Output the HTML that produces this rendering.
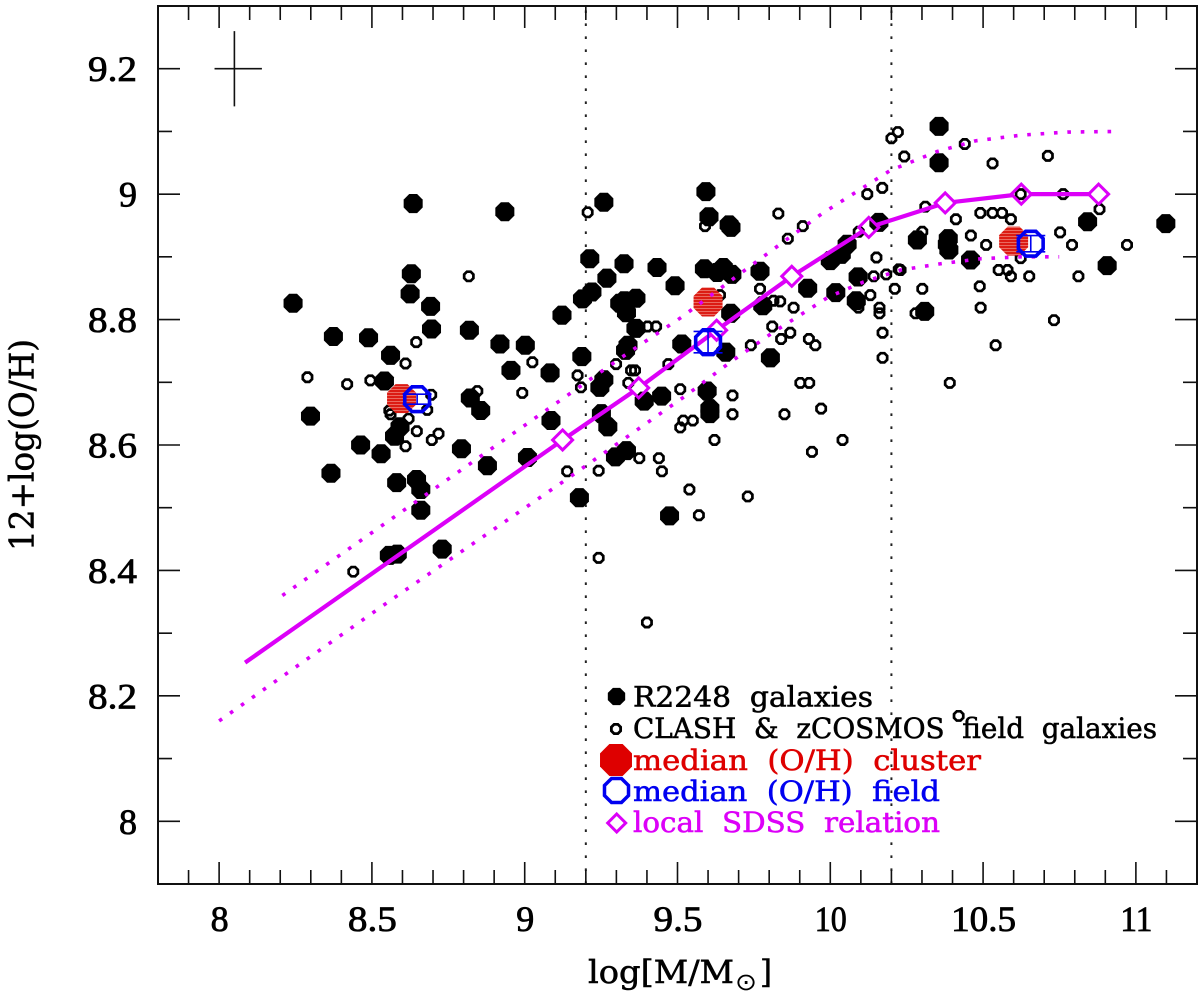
<!DOCTYPE html>
<html lang="en">
<head>
<meta charset="utf-8">
<title>Mass-metallicity relation</title>
<style>
html,body{margin:0;padding:0;background:#fff;}
svg{display:block;}
text{font-family:"Liberation Serif","DejaVu Serif",serif;white-space:pre;}
text.slab{font-family:"DejaVu Serif","Liberation Serif",serif;stroke-width:0.55px;}
</style>
</head>
<body>
<svg id="chart" xmlns="http://www.w3.org/2000/svg" width="1200" height="1000" viewBox="0 0 1200 1000">
  <defs>
    <pattern id="hatch" patternUnits="userSpaceOnUse" width="6" height="3">
      <rect width="6" height="3" fill="#ea6a60"/>
      <rect width="6" height="2" fill="#dc1c14"/>
    </pattern>
  </defs>
  <rect x="0" y="0" width="1200" height="1000" fill="#fff"/>
  <g id="vlines"></g>
  <g id="filled"></g>
  <g id="open"></g>
  <g id="clusterMed"></g>
  <g id="sdss"></g>
  <g id="fieldMed"></g>
  <g id="errcross"></g>
  <g id="axes"></g>

  <text class="slab" transform="translate(33.5,551) rotate(-90)" font-size="34" textLength="212" lengthAdjust="spacingAndGlyphs" fill="#000" stroke="#000">12+log(O/H)</text>
  <g fill="#000">
    <text class="slab" x="588" y="983" font-size="32" textLength="146" lengthAdjust="spacingAndGlyphs" stroke="#000">log[M/M</text>
    <text x="735" y="990" font-size="24" textLength="22" lengthAdjust="spacingAndGlyphs" style="font-family:'DejaVu Sans',sans-serif">⊙</text>
    <text class="slab" x="760" y="983" font-size="32" textLength="12" lengthAdjust="spacingAndGlyphs" stroke="#000">]</text>
  </g>

  <g id="legend">
    <polygon id="lg-filled" fill="#000"/>
    <text class="slab" x="633" y="706.5" font-size="28" textLength="240" lengthAdjust="spacingAndGlyphs" fill="#000" stroke="#000">R2248  galaxies</text>
    <polygon id="lg-open" fill="none" stroke="#000" stroke-width="2.8"/>
    <text class="slab" x="633" y="738" font-size="28" textLength="524" lengthAdjust="spacingAndGlyphs" fill="#000" stroke="#000">CLASH  &amp;  zCOSMOS  field  galaxies</text>
    <polygon id="lg-red" fill="#de0000"/>
    <text class="slab" x="633" y="770" font-size="28" textLength="348" lengthAdjust="spacingAndGlyphs" fill="#de0000" stroke="#de0000">median  (O/H)  cluster</text>
    <polygon id="lg-blue" fill="none" stroke="#0000f0" stroke-width="3.5"/>
    <text class="slab" x="633" y="801" font-size="28" textLength="307" lengthAdjust="spacingAndGlyphs" fill="#0000f0" stroke="#0000f0">median  (O/H)  field</text>
    <polygon id="lg-diamond" points="616.7,814 625.7,823 616.7,832 607.7,823" fill="none" stroke="#dc00f8" stroke-width="3"/>
    <text class="slab" x="633" y="832" font-size="28" textLength="307" lengthAdjust="spacingAndGlyphs" fill="#dc00f8" stroke="#dc00f8">local  SDSS  relation</text>
  </g>
</svg>

<script>
// ---------- chart data (logM, 12+log(O/H)) ----------
const filledGalaxies = [
[8.635,8.985],[8.935,8.972],[9.259,8.987],[9.213,8.897],[9.269,8.866],[9.22,8.844],[9.189,8.833],[8.629,8.873],[8.625,8.841],[8.242,8.826],
[8.692,8.821],[8.695,8.785],[8.374,8.773],[8.489,8.771],[8.819,8.783],[8.919,8.761],[9.002,8.759],[9.122,8.807],[9.187,8.741],[8.561,8.743],
[8.955,8.719],[9.083,8.715],[8.541,8.702],[9.259,8.704],[9.246,8.692],[8.822,8.675],[8.856,8.655],[8.299,8.646],[9.086,8.639],[9.251,8.65],
[9.272,8.629],[8.592,8.629],[8.574,8.614],[8.463,8.6],[8.53,8.586],[8.793,8.594],[8.366,8.555],[8.581,8.54],[8.646,8.545],[8.66,8.529],
[8.66,8.496],[8.878,8.567],[9.009,8.58],[9.179,8.516],[8.73,8.434],[8.557,8.424],[8.583,8.426],[9.593,9.004],[9.603,8.964],[9.675,8.947],
[9.669,8.951],[9.325,8.889],[9.433,8.883],[9.492,8.854],[9.588,8.881],[9.65,8.883],[9.63,8.875],[9.678,8.872],[9.77,8.877],[9.926,8.85],
[9.779,8.822],[10.091,8.868],[10.055,8.92],[10.036,8.904],[10.0,8.894],[10.159,8.955],[10.018,8.843],[10.085,8.83],[9.326,8.83],[9.364,8.834],
[9.311,8.826],[9.333,8.811],[9.364,8.786],[9.338,8.759],[9.33,8.751],[9.514,8.761],[9.674,8.81],[9.658,8.748],[9.804,8.739],[9.391,8.67],
[9.448,8.678],[9.597,8.686],[9.606,8.65],[9.606,8.658],[9.333,8.591],[9.297,8.581],[9.474,8.487],[10.356,9.108],[10.356,9.05],[10.285,8.927],
[10.386,8.929],[10.383,8.92],[10.388,8.911],[10.459,8.895],[10.309,8.813],[10.842,8.956],[11.098,8.953],[10.906,8.886]
];
const fieldGalaxies = [
[9.206,8.971],[8.817,8.869],[8.645,8.764],[8.61,8.73],[9.025,8.732],[8.289,8.708],[8.419,8.697],[8.495,8.703],[9.173,8.711],[9.184,8.692],
[8.992,8.683],[8.845,8.686],[8.694,8.68],[8.681,8.656],[8.557,8.655],[8.561,8.649],[8.62,8.642],[8.647,8.622],[8.718,8.618],[8.696,8.608],
[8.61,8.598],[8.439,8.398],[9.139,8.558],[9.242,8.559],[9.242,8.42],[9.59,8.949],[9.83,8.969],[9.91,8.949],[9.861,8.929],[10.121,9.0],
[10.17,9.01],[10.093,8.94],[10.151,8.899],[10.142,8.869],[10.183,8.872],[10.224,8.88],[10.211,8.849],[10.131,8.839],[10.161,8.819],[10.161,8.81],
[10.171,8.779],[10.171,8.739],[9.77,8.849],[9.814,8.83],[9.836,8.829],[9.88,8.819],[9.81,8.789],[9.869,8.779],[9.839,8.769],[9.93,8.769],
[9.951,8.759],[9.74,8.759],[9.402,8.789],[9.43,8.789],[9.639,8.839],[9.299,8.729],[9.47,8.729],[9.348,8.719],[9.361,8.719],[9.339,8.699],
[9.509,8.689],[9.68,8.679],[9.902,8.699],[9.931,8.699],[9.68,8.649],[9.519,8.639],[9.55,8.639],[9.509,8.628],[9.621,8.608],[9.375,8.579],
[9.439,8.579],[9.449,8.558],[9.539,8.529],[9.73,8.518],[9.57,8.488],[9.4,8.317],[9.85,8.649],[9.97,8.658],[10.04,8.608],[9.94,8.589],
[10.221,9.099],[10.2,9.089],[10.242,9.06],[10.44,9.08],[10.531,9.049],[10.712,9.061],[10.311,8.98],[10.623,9.0],[10.762,9.0],[10.881,8.976],
[10.491,8.97],[10.531,8.97],[10.562,8.97],[10.591,8.96],[10.411,8.96],[10.301,8.94],[10.46,8.934],[10.51,8.919],[10.752,8.939],[10.791,8.919],
[10.971,8.919],[10.623,8.898],[10.23,8.879],[10.551,8.879],[10.58,8.879],[10.591,8.869],[10.651,8.869],[10.812,8.869],[10.301,8.849],[10.489,8.853],
[10.492,8.819],[10.092,8.819],[10.279,8.81],[10.541,8.759],[10.732,8.799],[10.391,8.699],[10.42,8.168]
];
const clusterMedians = [[8.597,8.674],[9.6,8.828],[10.6,8.925]];
const fieldMedians = [[8.648,8.673],[9.6,8.764],[10.656,8.921]];
const fieldMedianErrors = [0.008,0.017,0.013];
const sdssCurve = [[8.085,8.253],[9.124,8.608],[9.373,8.691],[9.628,8.783],[9.874,8.869],[10.126,8.947],[10.376,8.986],[10.625,9.0],[10.878,9.0]];
const sdssUpper = [[8.207,8.36],[9.265,8.722],[9.333,8.745],[9.514,8.804],[9.721,8.879],[9.973,8.969],[10.197,9.038],[10.35,9.068],[10.475,9.085],[10.623,9.094],[10.776,9.099],[10.951,9.1]];
const sdssLower = [[8.0,8.16],[8.563,8.353],[9.133,8.544],[9.344,8.616],[9.525,8.678],[9.667,8.73],[9.814,8.78],[9.994,8.836],[10.109,8.86],[10.23,8.879],[10.361,8.889],[10.492,8.897],[10.623,8.9],[10.749,8.9]];
const massBoundaries = [9.2,10.2];
const errorCrossX = [7.985,8.14];
const errorCrossY = [9.14,9.26];
const errorCrossAt = [8.05,9.2];
const xTickLabels = ["8","8.5","9","9.5","10","10.5","11"];
const yTickLabels = ["8","8.2","8.4","8.6","8.8","9","9.2"];
const xDomain = [7.8,11.2];
const yDomain = [7.9,9.3];
const xMinorStep = 0.1;
const yMinorStep = 0.1;

// ---------- scales ----------
const plotLeft = 158, plotRight = 1197, plotTop = 6, plotBottom = 884;
function sx(v){ return plotLeft + (v - xDomain[0]) / (xDomain[1] - xDomain[0]) * (plotRight - plotLeft); }
function sy(v){ return plotBottom - (v - yDomain[0]) / (yDomain[1] - yDomain[0]) * (plotBottom - plotTop); }

const NS = "http://www.w3.org/2000/svg";
function mk(tag, attrs, parent){
  const el = document.createElementNS(NS, tag);
  for (const k in attrs) el.setAttribute(k, attrs[k]);
  if (parent) parent.appendChild(el);
  return el;
}
function octagon(cx, cy, r){
  const pts = [];
  for (let i = 0; i < 8; i++){
    const a = Math.PI / 8 + i * Math.PI / 4;
    pts.push((cx + r * Math.cos(a)).toFixed(2) + "," + (cy + r * Math.sin(a)).toFixed(2));
  }
  return pts.join(" ");
}
const $ = id => document.getElementById(id);

// ---------- vertical dotted boundaries ----------
massBoundaries.forEach(function(v){
  const el = mk("line", {x1:sx(v), x2:sx(v), y1:plotBottom, y2:plotTop, stroke:"#222", "stroke-width":2, "stroke-dasharray":"2.6 10.4"}, $("vlines"));
  
  
});

// ---------- galaxies ----------
filledGalaxies.forEach(function(p){
  const el = mk("polygon", {points:octagon(sx(p[0]), sy(p[1]), 10.3), fill:"#000"}, $("filled"));
  
  
});
fieldGalaxies.forEach(function(p){
  const el = mk("polygon", {points:octagon(sx(p[0]), sy(p[1]), 5), fill:"none", stroke:"#000", "stroke-width":2.7}, $("open"));
  
  
});

// ---------- cluster medians ----------
clusterMedians.forEach(function(p){
  const el = mk("polygon", {points:octagon(sx(p[0]), sy(p[1]), 15.7), fill:"url(#hatch)"}, $("clusterMed"));
  
  
});

// ---------- SDSS relation ----------
function pathOf(arr){
  return arr.map(function(p, i){ return (i ? "L" : "M") + sx(p[0]).toFixed(2) + " " + sy(p[1]).toFixed(2); }).join(" ");
}
[sdssUpper, sdssLower].forEach(function(arr){
  const el = mk("path", {d:pathOf(arr), fill:"none", stroke:"#dc00f8", "stroke-width":3.6, "stroke-dasharray":"3.6 9.8"}, $("sdss"));
  
  
});
const diamondHalf = 10;
for (let i = 0; i < sdssCurve.length - 1; i++){
  const x1 = sx(sdssCurve[i][0]), y1 = sy(sdssCurve[i][1]);
  const x2 = sx(sdssCurve[i + 1][0]), y2 = sy(sdssCurve[i + 1][1]);
  const len = Math.hypot(x2 - x1, y2 - y1);
  const ux = (x2 - x1) / len, uy = (y2 - y1) / len;
  const gapStart = i === 0 ? 0 : diamondHalf * 0.75;
  const seg = mk("line", {x1:x1 + ux * gapStart, y1:y1 + uy * gapStart, x2:x2 - ux * diamondHalf * 0.75, y2:y2 - uy * diamondHalf * 0.75, stroke:"#dc00f8", "stroke-width":4.2}, $("sdss"));
  
  
}
sdssCurve.slice(1).forEach(function(p){
  const cx = sx(p[0]), cy = sy(p[1]);
  const pts = [[cx, cy - diamondHalf], [cx + diamondHalf, cy], [cx, cy + diamondHalf], [cx - diamondHalf, cy]].map(function(q){ return q.join(","); }).join(" ");
  const el = mk("polygon", {points:pts, fill:"none", stroke:"#dc00f8", "stroke-width":3}, $("sdss"));
  
  
});

// ---------- field medians ----------
fieldMedians.forEach(function(p, i){
  const cx = sx(p[0]), cy = sy(p[1]);
  const el = mk("polygon", {points:octagon(cx, cy, 13.4), fill:"none", stroke:"#0000f0", "stroke-width":3.6}, $("fieldMed"));
  
  
  const top = sy(p[1] + fieldMedianErrors[i]), bot = sy(p[1] - fieldMedianErrors[i]);
  const d = "M" + (cx - 14.5) + " " + top + "H" + (cx + 14.5) + "M" + (cx - 14.5) + " " + bot + "H" + (cx + 14.5) + "M" + cx + " " + top + "V" + bot;
  const err = mk("path", {d:d, fill:"none", stroke:"#0000f0", "stroke-width":1.6}, $("fieldMed"));
  
  
});

// ---------- typical error cross ----------
(function(){
  const el = mk("path", {
    d:"M" + sx(errorCrossX[0]) + " " + sy(errorCrossAt[1]) + "H" + sx(errorCrossX[1]) +
      "M" + sx(errorCrossAt[0]) + " " + sy(errorCrossY[1]) + "V" + sy(errorCrossY[0]),
    fill:"none", stroke:"#111", "stroke-width":1.6}, $("errcross"));
  
  
})();

// ---------- axes ----------
const frame = mk("rect", {x:plotLeft, y:plotTop, width:plotRight - plotLeft, height:plotBottom - plotTop, fill:"none", stroke:"#111", "stroke-width":2}, $("axes"));



const majorLen = 22, minorLen = 14;
const xMajorVals = xTickLabels.map(Number), yMajorVals = yTickLabels.map(Number);
function isMajor(v, list){ return list.some(function(m){ return Math.abs(m - v) < 1e-6; }); }

for (let v = Math.ceil(xDomain[0] / xMinorStep) * xMinorStep; v <= xDomain[1] + 1e-6; v += xMinorStep){
  const x = sx(v), len = isMajor(v, xMajorVals) ? majorLen : minorLen;
  const t = mk("path", {d:"M" + x + " " + plotBottom + "V" + (plotBottom - len) + "M" + x + " " + plotTop + "V" + (plotTop + len), stroke:"#111", "stroke-width":1.6, fill:"none"}, $("axes"));
  
  
}
for (let v = Math.ceil(yDomain[0] / yMinorStep) * yMinorStep; v <= yDomain[1] + 1e-6; v += yMinorStep){
  const y = sy(v), len = isMajor(v, yMajorVals) ? majorLen : minorLen;
  const t = mk("path", {d:"M" + plotLeft + " " + y + "H" + (plotLeft + len) + "M" + plotRight + " " + y + "H" + (plotRight - len), stroke:"#111", "stroke-width":1.6, fill:"none"}, $("axes"));
  
  
}
function labelWidth(s){
  let w = 0;
  for (const c of s) w += c === "." ? 17 : 16;
  return s.length === 1 ? 18 : w;
}
xTickLabels.forEach(function(s){
  const t = mk("text", {x:sx(Number(s)) + 0.5, y:931, "font-size":36, "text-anchor":"middle", textLength:labelWidth(s), lengthAdjust:"spacingAndGlyphs", fill:"#000", stroke:"#000", "stroke-width":0.8}, $("axes"));
  t.textContent = s;
  
  
});
yTickLabels.forEach(function(s){
  const t = mk("text", {x:137, y:sy(Number(s)) + 12.5, "font-size":36, "text-anchor":"end", textLength:labelWidth(s), lengthAdjust:"spacingAndGlyphs", fill:"#000", stroke:"#000", "stroke-width":0.8}, $("axes"));
  t.textContent = s;
  
  
});

// ---------- legend markers ----------
$("lg-filled").setAttribute("points", octagon(616.5, 696.5, 9.4));
$("lg-open").setAttribute("points", octagon(616, 729, 5));
$("lg-red").setAttribute("points", octagon(616, 760, 17.3));
$("lg-blue").setAttribute("points", octagon(616.5, 790.5, 13));
</script>
</body>
</html>
